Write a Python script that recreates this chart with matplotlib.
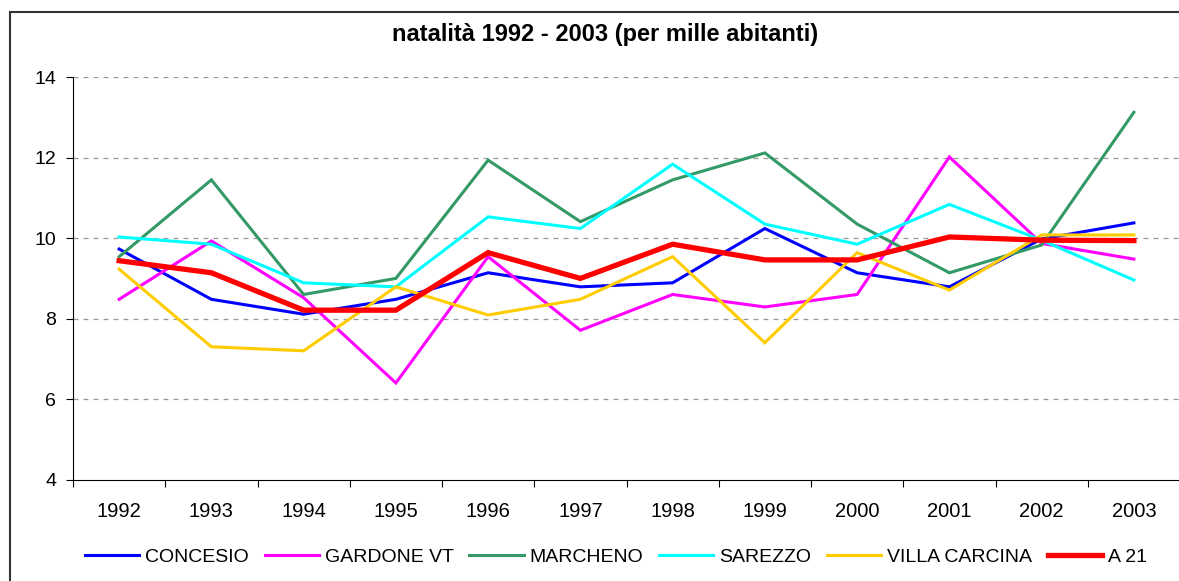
import matplotlib.pyplot as plt
from matplotlib.patches import Rectangle
import numpy as np

plt.rcParams['font.family'] = ['Liberation Sans', 'DejaVu Sans']

years = ['1992', '1993', '1994', '1995', '1996', '1997', '1998', '1999', '2000', '2001', '2002', '2003']
concesio = [9.73, 8.48, 8.11, 8.48, 9.14, 8.79, 8.89, 10.24, 9.14, 8.79, 9.98, 10.38]
gardone = [8.48, 9.93, 8.52, 6.40, 9.54, 7.71, 8.60, 8.29, 8.60, 12.02, 9.87, 9.48]
marcheno = [9.54, 11.45, 8.60, 9.00, 11.94, 10.41, 11.45, 12.12, 10.35, 9.14, 9.83, 13.13]
sarezzo = [10.03, 9.85, 8.89, 8.79, 10.53, 10.24, 11.84, 10.35, 9.85, 10.84, 9.95, 8.96]
villa_carcina = [9.23, 7.30, 7.20, 8.79, 8.09, 8.48, 9.54, 7.40, 9.64, 8.71, 10.08, 10.08]
a21 = [9.44, 9.14, 8.21, 8.21, 9.64, 9.00, 9.85, 9.46, 9.46, 10.03, 9.95, 9.94]

series = [
	('CONCESIO', concesio, '#0000FF', 2.2),
	('GARDONE VT', gardone, '#FF00FF', 2.2),
	('MARCHENO', marcheno, '#339966', 2.2),
	('SAREZZO', sarezzo, '#00FFFF', 2.2),
	('VILLA CARCINA', villa_carcina, '#FFCC00', 2.2),
	('A 21', a21, '#FF0000', 3.8),
]

fig = plt.figure(figsize=(11.79, 5.81), dpi=100)
W, H = 1179, 581
ax = fig.add_axes([73 / W, 1 - 479.5 / H, 1107 / W, (479.5 - 77.3) / H])

x = np.arange(len(years))
for name, vals, col, lw in series:
	ax.plot(x, vals, color=col, lw=lw, label=name, solid_joinstyle='miter')

ax.set_xlim(-0.5, len(years) - 0.5)
ax.set_ylim(4, 14)
ax.set_yticks([4, 6, 8, 10, 12, 14])
ax.set_xticks(x)
ax.set_xticklabels(years)
ax.set_xticks(np.arange(len(years)) - 0.5, minor=True)
ax.tick_params(axis='x', which='major', length=0, pad=16, labelsize=14.5)
ax.tick_params(axis='x', which='minor', length=5, direction='out', width=0.8)
ax.tick_params(axis='y', length=5, direction='out', width=0.8, labelsize=14, pad=7)
for gy in [6, 8, 10, 12, 14]:
	ax.axhline(gy, color='#999999', lw=0.9, ls=(0, (4, 4)), zorder=0)
ax.spines['top'].set_visible(False)
ax.spines['right'].set_visible(False)

fig.text(605 / W, 1 - 34 / H, 'natalità 1992 - 2003 (per mille abitanti)',
	ha='center', va='center', fontsize=17, fontweight='bold')

leg = fig.legend(loc='center', bbox_to_anchor=(616 / W, 1 - 557 / H), ncol=6, frameon=False,
	fontsize=14, handlelength=2.8, handletextpad=0.3, columnspacing=0.8)

# outer chart frame
fig.patches.append(Rectangle((10 / W, -0.05), 1.1, 1 - 12 / H + 0.05, transform=fig.transFigure,
	fill=False, edgecolor='#333333', lw=1.5))

fig.savefig('out.png', dpi=100)
